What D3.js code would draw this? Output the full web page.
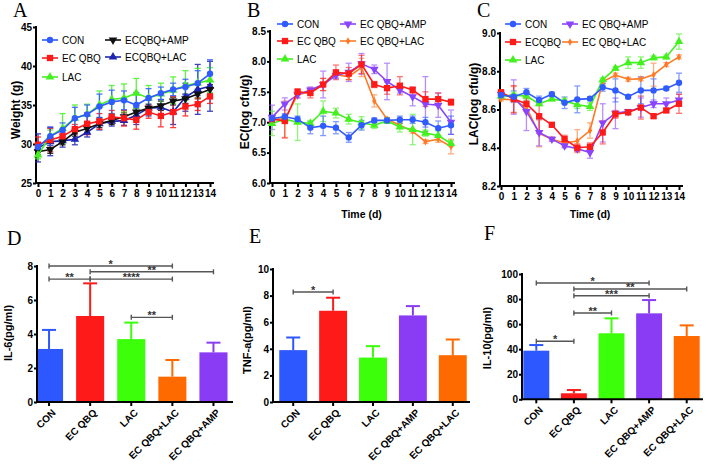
<!DOCTYPE html>
<html><head><meta charset="utf-8">
<script src="https://cdn.jsdelivr.net/npm/d3@7"></script>
<style>body{margin:0;background:#fff}svg{display:block}text{font-family:"Liberation Sans",Arial,sans-serif}</style>
</head><body><svg id="c" width="709" height="465"></svg>
<script>
// ---------- DATA ----------
const days = [0,1,2,3,4,5,6,7,8,9,10,11,12,13,14];

// Panel A: body weight (g)
const wCON    = [29.6,31.0,31.8,33.3,33.8,34.8,35.4,35.6,35.0,35.9,36.5,37.0,37.3,37.8,39.0];
const wCONe   = [0.6,1.2,0.9,1.4,1.2,1.6,1.5,1.2,1.6,1.2,0.8,0.8,1.0,1.6,1.8];
const wECQBQ  = [29.9,30.5,31.0,31.9,32.6,32.9,33.5,33.3,33.1,34.1,33.6,34.1,34.8,35.1,36.1];
const wECQBQe = [1.0,1.5,0.5,0.6,1.4,1.0,0.8,1.0,1.2,0.8,1.4,2.0,1.2,0.8,0.9];
const wLAC    = [28.6,31.0,32.0,33.3,33.8,35.0,35.7,35.9,36.5,35.9,36.4,36.9,37.5,37.8,38.2];
const wLACe   = [0.5,0.8,1.9,1.7,1.3,1.8,1.8,1.8,1.9,1.6,1.4,1.7,1.9,1.9,1.6];
const wAMP    = [29.0,29.3,30.3,31.5,32.0,32.6,33.0,33.5,34.1,34.6,34.9,35.5,35.8,36.4,37.0];
const wAMPe   = [0.4,0.5,0.4,0.5,0.5,0.5,0.5,0.5,0.5,0.5,0.6,0.5,0.6,0.6,0.6];
const wQL     = [29.5,30.3,30.4,30.6,31.5,32.6,32.9,33.0,33.7,34.6,34.7,34.1,36.0,37.0,37.4];
const wQLe    = [1.8,1.8,0.8,0.7,0.6,0.8,0.6,0.6,1.2,1.0,1.0,1.6,1.8,3.2,3.2];

// Panel B: EC (log cfu/g)
const bCON    = [7.06,7.09,7.05,6.91,6.94,6.91,6.75,6.95,7.03,7.03,7.04,7.04,7.00,6.90,6.95];
const bCONe   = [0.05,0.05,0.05,0.10,0.16,0.10,0.08,0.08,0.04,0.04,0.06,0.06,0.08,0.12,0.15];
const bECQBQ  = [7.05,7.02,7.50,7.48,7.62,7.82,7.80,7.95,7.62,7.56,7.60,7.53,7.38,7.38,7.33];
const bECQBQe = [0.05,0.28,0.05,0.08,0.10,0.12,0.10,0.15,0.05,0.10,0.15,0.05,0.12,0.10,0.05];
const bLAC    = [6.98,7.05,7.00,6.98,7.18,7.15,7.05,6.99,6.95,7.02,6.92,6.88,6.82,6.78,6.65];
const bLACe   = [0.20,0.05,0.30,0.05,0.17,0.08,0.08,0.10,0.05,0.04,0.08,0.25,0.05,0.08,0.05];
const bAMP    = [7.08,7.30,7.45,7.53,7.62,7.77,7.82,7.96,7.87,7.67,7.53,7.42,7.30,7.28,7.00];
const bAMPe   = [0.20,0.10,0.05,0.05,0.22,0.05,0.15,0.17,0.07,0.30,0.05,0.15,0.45,0.20,0.20];
const bQL     = [7.05,7.05,7.45,7.50,7.62,7.78,7.75,7.90,7.35,7.05,6.95,6.85,6.68,6.72,6.60];
const bQLe    = [0.05,0.30,0.05,0.05,0.10,0.05,0.05,0.15,0.10,0.03,0.03,0.03,0.03,0.05,0.12];

// Panel C: LAC (log cfu/g)
const cCON    = [8.676,8.667,8.690,8.650,8.680,8.635,8.653,8.657,8.716,8.700,8.667,8.700,8.700,8.710,8.740];
const cCONe   = [0.02,0.03,0.02,0.02,0.01,0.03,0.07,0.01,0.02,0.06,0.01,0.07,0.06,0.01,0.05];
const cECQBQ  = [8.690,8.655,8.630,8.565,8.520,8.445,8.400,8.405,8.480,8.575,8.585,8.610,8.565,8.595,8.630];
const cECQBQe = [0.01,0.07,0.03,0.09,0.01,0.02,0.02,0.02,0.06,0.02,0.01,0.06,0.01,0.01,0.05];
const cLAC    = [8.670,8.675,8.670,8.630,8.655,8.645,8.625,8.615,8.755,8.815,8.845,8.845,8.870,8.875,8.955];
const cLACe   = [0.01,0.01,0.02,0.01,0.01,0.01,0.02,0.02,0.01,0.01,0.03,0.03,0.01,0.01,0.04];
const cAMP    = [8.680,8.665,8.590,8.480,8.445,8.410,8.395,8.375,8.530,8.580,8.590,8.610,8.630,8.630,8.650];
const cAMPe   = [0.01,0.09,0.10,0.07,0.01,0.01,0.01,0.03,0.10,0.08,0.01,0.05,0.02,0.03,0.03];
const cQL     = [8.655,8.650,8.610,8.475,8.445,8.425,8.435,8.490,8.745,8.780,8.758,8.760,8.782,8.835,8.875];
const cQLe    = [0.01,0.07,0.02,0.07,0.01,0.02,0.06,0.04,0.01,0.01,0.01,0.01,0.06,0.01,0.01];

// Panels D, E, F: cytokines (pg/ml)
const catsD = ["CON","EC QBQ","LAC","EC QBQ+LAC","EC QBQ+AMP"];
const il6   = [3.12,5.06,3.70,1.49,2.92];
const il6e  = [1.12,1.92,0.97,0.98,0.57];
const catsE = ["CON","EC QBQ","LAC","EC QBQ+AMP","EC QBQ+LAC"];
const tnf   = [3.90,6.86,3.34,6.51,3.52];
const tnfe  = [0.95,0.98,0.86,0.70,1.18];
const catsF = ["CON","EC QBQ","LAC","EC QBQ+AMP","EC QBQ+LAC"];
const il10  = [38.8,4.8,52.7,68.6,50.5];
const il10e = [4.5,2.6,11.9,10.6,8.5];

// significance annotations: [fromIndex, toIndex, level (data units), label]
const sigD = [[0,3,8.0,"*"],[1,4,7.66,"**"],[0,1,7.23,"**"],[1,3,7.23,"****"],[2,3,4.98,"**"]];
const sigE = [[0,1,8.27,"*"]];
const sigF = [[0,3,92.8,"*"],[1,4,88.0,"**"],[1,3,82.7,"***"],[1,2,68.9,"**"],[0,1,46.3,"*"]];

// ---------- STYLE ----------
const COL = {
  CON:"#2f5bff", ECQBQ:"#ff1a1a", LAC:"#44f020", AMPk:"#111111", QLnavy:"#1c24b0",
  AMP:"#8a44ff", QL:"#ff7a26"
};
const barCol = {"CON":"#2d57ff","EC QBQ":"#ff1a1a","LAC":"#3cff0a","EC QBQ+LAC":"#ff6a00","EC QBQ+AMP":"#8a3cf5"};

const svg = d3.select("#c");
const FONT = '"Liberation Sans",Arial,sans-serif';

function panelLetter(t,x,y){
  svg.append("text").attr("x",x).attr("y",y).text(t)
    .style("font-family",'"Liberation Serif","Times New Roman",serif').style("font-size","20px");
}

function symFor(k){
  return {circle:d3.symbolCircle,square:d3.symbolSquare,tri:d3.symbolTriangle,tridown:d3.symbolTriangle,diamond:d3.symbolDiamond}[k];
}
function drawMarker(g,k,color,cx,cy,size){
  const sz = size || {circle:32,square:40,tri:32,tridown:32,diamond:16}[k];
  g.append("path").attr("d",d3.symbol().type(symFor(k)).size(sz)())
    .attr("transform",`translate(${cx},${cy})`+(k==="tridown"?" rotate(180)":""))
    .attr("fill",color);
}

function linePanel(cfg){
  const g = svg.append("g");
  const x = d3.scaleLinear().domain([0,14]).range(cfg.xr);
  const y = d3.scaleLinear().domain(cfg.yd).range(cfg.yr);
  // axes
  const ax = g.append("g").attr("transform",`translate(0,${cfg.yr[0]})`)
    .call(d3.axisBottom(x).tickValues(days).tickSize(4).tickPadding(3).tickFormat(d3.format("d")));
  ax.select(".domain").remove();
  const ay = g.append("g").attr("transform",`translate(${cfg.ax0},0)`)
    .call(d3.axisLeft(y).tickValues(cfg.yt).tickSize(3).tickPadding(1).tickFormat(cfg.fmt));
  ay.select(".domain").remove();
  [ax,ay].forEach(a=>{a.selectAll("line").attr("stroke","#000").attr("stroke-width",2);
    a.selectAll("text").style("font-family",FONT).style("font-weight","bold").style("font-size","10px").attr("fill","#000");});
  g.append("line").attr("x1",cfg.ax0).attr("x2",cfg.ax0).attr("y1",cfg.yr[0]+1).attr("y2",y(cfg.yd[1])-1).attr("stroke","#000").attr("stroke-width",2);
  g.append("line").attr("x1",cfg.ax0-1).attr("x2",cfg.ax1).attr("y1",cfg.yr[0]).attr("y2",cfg.yr[0]).attr("stroke","#000").attr("stroke-width",2);
  // titles
  g.append("text").attr("transform",`translate(${cfg.ylx},${cfg.yly}) rotate(-90)`).attr("text-anchor","middle")
    .style("font-weight","bold").style("font-size",cfg.ylfs+"px").text(cfg.ylabel);
  if(cfg.xlabel) g.append("text").attr("x",(cfg.xr[0]+cfg.xr[1])/2).attr("y",cfg.xly).attr("text-anchor","middle")
    .style("font-weight","bold").style("font-size","10.5px").text(cfg.xlabel);
  // error bars
  const order = cfg.series.slice().reverse();
  order.forEach(s=>{
    const eg = g.append("g").attr("stroke",s.color).attr("stroke-width",1.3).attr("opacity",cfg.eop);
    s.v.forEach((v,i)=>{
      const e=s.e[i], cx=x(days[i]);
      eg.append("line").attr("x1",cx).attr("x2",cx).attr("y1",y(v-e)).attr("y2",y(v+e));
      [v-e,v+e].forEach(t=>eg.append("line").attr("x1",cx-3).attr("x2",cx+3).attr("y1",y(t)).attr("y2",y(t)));
    });
  });
  order.forEach(s=>{
    g.append("path").datum(s.v).attr("fill","none").attr("stroke",s.color).attr("stroke-width",1.6)
      .attr("d",d3.line().x((d,i)=>x(days[i])).y(d=>y(d)));
    s.v.forEach((v,i)=>drawMarker(g,s.sym,s.color,x(days[i]),y(v)));
  });
  // legend
  cfg.series.forEach((s,i)=>{
    const p = cfg.leg[i];
    g.append("line").attr("x1",p[0]).attr("x2",p[0]+16).attr("y1",p[1]).attr("y2",p[1]).attr("stroke",s.color).attr("stroke-width",1.6);
    drawMarker(g,s.sym,s.color,p[0]+8,p[1]);
    g.append("text").attr("x",p[0]+20).attr("y",p[1]).attr("dy","0.36em").style("font-size","10px").text(s.name);
  });
}

function barPanel(cfg){
  const g = svg.append("g");
  const x = d3.scaleBand().domain(cfg.cats).range(cfg.xr).paddingInner(cfg.pi).paddingOuter(cfg.po);
  const y = d3.scaleLinear().domain(cfg.yd).range(cfg.yr);
  const clipId = "clip"+cfg.id;
  g.append("clipPath").attr("id",clipId).append("rect").attr("x",cfg.ax0+1).attr("y",0).attr("width",400).attr("height",465);
  const bw = x.bandwidth();
  const bg = g.append("g").attr("clip-path",`url(#${clipId})`);
  cfg.cats.forEach((c,i)=>{
    const cx = x(c)+bw/2, col = barCol[c];
    bg.append("rect").attr("x",x(c)).attr("width",bw).attr("y",y(cfg.v[i])).attr("height",y(0)-y(cfg.v[i])).attr("fill",col);
    g.append("line").attr("x1",cx).attr("x2",cx).attr("y1",y(cfg.v[i])).attr("y2",y(cfg.v[i]+cfg.e[i])).attr("stroke",col).attr("stroke-width",2);
    g.append("line").attr("x1",cx-7).attr("x2",cx+7).attr("y1",y(cfg.v[i]+cfg.e[i])).attr("y2",y(cfg.v[i]+cfg.e[i])).attr("stroke",col).attr("stroke-width",2);
  });
  const ax = g.append("g").attr("transform",`translate(0,${cfg.yr[0]})`)
    .call(d3.axisBottom(x).tickSize(4).tickFormat(""));
  ax.select(".domain").remove();
  ax.selectAll("line").attr("stroke","#000").attr("stroke-width",2);
  const ay = g.append("g").attr("transform",`translate(${cfg.ax0},0)`)
    .call(d3.axisLeft(y).tickValues(cfg.yt).tickSize(3).tickPadding(1));
  ay.select(".domain").remove();
  ay.selectAll("line").attr("stroke","#000").attr("stroke-width",2);
  ay.selectAll("text").style("font-family",FONT).style("font-weight","bold").style("font-size","10px").attr("fill","#000");
  g.append("line").attr("x1",cfg.ax0).attr("x2",cfg.ax0).attr("y1",cfg.yr[0]+1).attr("y2",y(cfg.yd[1])-1).attr("stroke","#000").attr("stroke-width",2);
  g.append("line").attr("x1",cfg.ax0-1).attr("x2",cfg.ax1).attr("y1",cfg.yr[0]).attr("y2",cfg.yr[0]).attr("stroke","#000").attr("stroke-width",2);
  // category labels
  cfg.cats.forEach(c=>{
    const cx = x(c)+bw/2;
    g.append("text").attr("transform",`translate(${cx+2},${cfg.yr[0]+6}) rotate(-45)`).attr("text-anchor","end").attr("dy","0.75em")
      .style("font-weight","bold").style("font-size","10px").text(c);
  });
  // y title
  g.append("text").attr("transform",`translate(${cfg.ylx},${cfg.yly}) rotate(-90)`).attr("text-anchor","middle")
    .style("font-weight","bold").style("font-size","11px").text(cfg.ylabel);
  // significance
  cfg.sig.forEach(s=>{
    const x1 = x(cfg.cats[s[0]])+bw/2, x2 = x(cfg.cats[s[1]])+bw/2, yy = y(s[2]);
    const sg = g.append("g").attr("stroke","#555").attr("stroke-width",1.4);
    sg.append("line").attr("x1",x1).attr("x2",x2).attr("y1",yy).attr("y2",yy);
    sg.append("line").attr("x1",x1).attr("x2",x1).attr("y1",yy-2.5).attr("y2",yy+2.5);
    sg.append("line").attr("x1",x2).attr("x2",x2).attr("y1",yy-2.5).attr("y2",yy+2.5);
    g.append("text").attr("x",(x1+x2)/2).attr("y",yy+2).attr("text-anchor","middle")
      .style("font-weight","bold").style("font-size","11px").attr("fill","#333").text(s[3]);
  });
}

// ---------- DRAW ----------
panelLetter("A",13,17); panelLetter("B",247,17); panelLetter("C",477,17);
panelLetter("D",7,245); panelLetter("E",249,243); panelLetter("F",484,240);

linePanel({
  xr:[38,210], yr:[183,27], yd:[25,45], yt:[25,30,35,40,45], fmt:d3.format("d"), ax0:36, ax1:214, eop:0.85,
  ylabel:"Weight (g)", ylx:20, yly:110, ylfs:12,
  series:[
    {name:"CON",v:wCON,e:wCONe,color:COL.CON,sym:"circle"},
    {name:"EC QBQ",v:wECQBQ,e:wECQBQe,color:COL.ECQBQ,sym:"square"},
    {name:"LAC",v:wLAC,e:wLACe,color:COL.LAC,sym:"tri"},
    {name:"ECQBQ+AMP",v:wAMP,e:wAMPe,color:COL.AMPk,sym:"tridown"},
    {name:"ECQBQ+LAC",v:wQL,e:wQLe,color:COL.QLnavy,sym:"tri"}
  ],
  leg:[[42,40],[42,58],[42,77],[105,40],[105,57]]
});
linePanel({
  xr:[272,451], yr:[183,31], yd:[6,8.5], yt:[6,6.5,7,7.5,8,8.5], fmt:d3.format(".1f"), ax0:270, ax1:455, eop:0.6,
  ylabel:"EC(log cfu/g)", ylx:249, yly:112, ylfs:12, xlabel:"Time (d)", xly:218,
  series:[
    {name:"CON",v:bCON,e:bCONe,color:COL.CON,sym:"circle"},
    {name:"EC QBQ",v:bECQBQ,e:bECQBQe,color:COL.ECQBQ,sym:"square"},
    {name:"LAC",v:bLAC,e:bLACe,color:COL.LAC,sym:"tri"},
    {name:"EC QBQ+AMP",v:bAMP,e:bAMPe,color:COL.AMP,sym:"tridown"},
    {name:"EC QBQ+LAC",v:bQL,e:bQLe,color:COL.QL,sym:"diamond"}
  ],
  leg:[[277,24],[277,41],[277,59],[340,24],[340,41]]
});
linePanel({
  xr:[501,679], yr:[186,33], yd:[8.2,9.0], yt:[8.2,8.4,8.6,8.8,9.0], fmt:d3.format(".1f"), ax0:500, ax1:683, eop:0.6,
  ylabel:"LAC(log cfu/g)", ylx:478, yly:104, ylfs:12, xlabel:"Time (d)", xly:218,
  series:[
    {name:"CON",v:cCON,e:cCONe,color:COL.CON,sym:"circle"},
    {name:"ECQBQ",v:cECQBQ,e:cECQBQe,color:COL.ECQBQ,sym:"square"},
    {name:"LAC",v:cLAC,e:cLACe,color:COL.LAC,sym:"tri"},
    {name:"EC QBQ+AMP",v:cAMP,e:cAMPe,color:COL.AMP,sym:"tridown"},
    {name:"EC QBQ+LAC",v:cQL,e:cQLe,color:COL.QL,sym:"diamond"}
  ],
  leg:[[505,24],[505,42],[505,60],[562,24],[562,42]]
});

barPanel({id:"D",cats:catsD,v:il6,e:il6e,xr:[35,227.5],pi:0.317,po:0,ax0:37,ax1:233,
  yr:[402,266],yd:[0,8],yt:[0,2,4,6,8],ylabel:"IL-6(pg/ml)",ylx:12,yly:333,sig:sigD});
barPanel({id:"E",cats:catsE,v:tnf,e:tnfe,xr:[273,473],pi:0.3,po:0.157,ax0:273,ax1:470,
  yr:[402,269],yd:[0,10],yt:[0,2,4,6,8,10],ylabel:"TNF-a(pg/ml)",ylx:251,yly:340,sig:sigE});
barPanel({id:"F",cats:catsF,v:il10,e:il10e,xr:[522,701],pi:0.31,po:0.035,ax0:522,ax1:703,
  yr:[399.3,274],yd:[0,100],yt:[0,20,40,60,80,100],ylabel:"IL-10(pg/ml)",ylx:491,yly:338,sig:sigF});
</script></body></html>
